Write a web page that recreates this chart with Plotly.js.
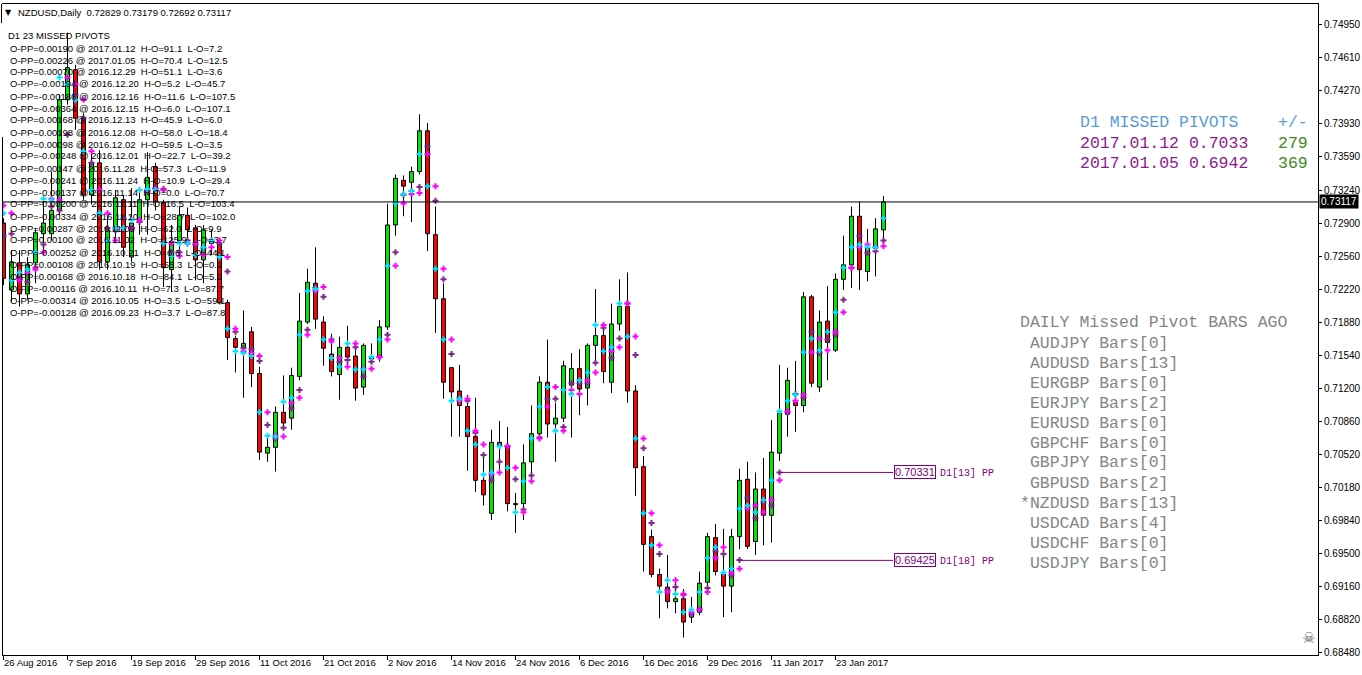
<!DOCTYPE html>
<html><head><meta charset="utf-8">
<script src="https://cdn.plot.ly/plotly-3.0.1.min.js"></script>
<style>html,body{margin:0;padding:0;background:#fff;}#chart{width:1362px;height:675px;}</style>
</head><body><div id="chart"></div>
<script>
// ---------------- DATA ----------------
const symbol = 'NZDUSD';
const timeframe = 'Daily';
const tickBars = [0,8,16,24,32,40,48,56,64,72,80,88,96,104];
const tickLabels = ['26 Aug 2016','7 Sep 2016','19 Sep 2016','29 Sep 2016','11 Oct 2016','21 Oct 2016','2 Nov 2016','14 Nov 2016','24 Nov 2016','6 Dec 2016','16 Dec 2016','29 Dec 2016','11 Jan 2017','23 Jan 2017'];
const priceTicks = [0.74950,0.74610,0.74270,0.73930,0.73590,0.73240,0.72900,0.72560,0.72220,0.71880,0.71540,0.71200,0.70860,0.70520,0.70180,0.69840,0.69500,0.69160,0.68820,0.68480];

const opens = [0.7290,0.7221,0.7249,0.7217,0.7249,0.7279,0.7279,0.7303,0.7417,0.7448,
0.7399,0.7319,0.7352,0.7250,0.7281,0.7314,0.7255,0.7291,0.7314,0.7348,
0.7311,0.7242,0.7272,0.7298,0.7285,0.7252,0.7271,0.7268,0.7208,0.7171,
0.7162,0.7178,0.7135,0.7053,0.7059,0.7095,0.7089,0.7132,0.7188,0.7228,
0.7188,0.7155,0.7134,0.7162,0.7153,0.7121,0.7150,0.7151,0.7183,0.7288,
0.7334,0.7332,0.7343,0.7385,0.7278,0.7212,0.7141,0.7117,0.7101,0.7070,
0.7025,0.6991,0.7064,0.7060,0.7001,0.7001,0.7044,0.7073,0.7126,0.7083,
0.7089,0.7123,0.7140,0.7120,0.7164,0.7174,0.7126,0.7186,0.7204,0.7117,
0.7039,0.6967,0.6928,0.6915,0.6900,0.6903,0.6884,0.6889,0.6920,0.6966,
0.6928,0.6916,0.6967,0.7026,0.6962,0.7016,0.6989,0.7053,0.7093,0.7105,
0.7102,0.7214,0.7121,0.7189,0.7159,0.7232,0.7247,0.7297,0.7240,0.7264,
0.72829];
const highs = [0.7295,0.7262,0.7262,0.7255,0.7285,0.7314,0.7343,0.7422,0.7486,0.7453,
0.7403,0.7365,0.7365,0.7301,0.7324,0.7319,0.7326,0.7325,0.7363,0.7352,
0.7314,0.7288,0.7307,0.7306,0.7288,0.7288,0.7283,0.7275,0.7211,0.7174,
0.7200,0.7183,0.7142,0.7070,0.7101,0.7133,0.7141,0.7218,0.7243,0.7265,
0.7194,0.7176,0.7173,0.7184,0.7162,0.7166,0.7166,0.7190,0.7310,0.7340,
0.7339,0.7348,0.7402,0.7393,0.7307,0.7228,0.7141,0.7144,0.7113,0.7110,
0.7051,0.7077,0.7086,0.7080,0.7012,0.7062,0.7102,0.7132,0.7170,0.7105,
0.7148,0.7156,0.7160,0.7166,0.7222,0.7188,0.7207,0.7232,0.7239,0.7123,
0.7050,0.6974,0.6934,0.6948,0.6925,0.6913,0.6905,0.6931,0.6971,0.6980,
0.6975,0.6975,0.7037,0.7044,0.7033,0.7048,0.7087,0.7144,0.7141,0.7148,
0.7219,0.7216,0.7200,0.7225,0.7238,0.7277,0.7307,0.7312,0.7284,0.7295,
0.73179];
const lows = [0.7226,0.7209,0.7204,0.7211,0.7228,0.7260,0.7272,0.7298,0.7412,0.7386,
0.7314,0.7309,0.7242,0.7242,0.7272,0.7255,0.7250,0.7278,0.7278,0.7303,
0.7224,0.7219,0.7255,0.7272,0.7231,0.7228,0.7257,0.7206,0.7149,0.7136,
0.7110,0.7121,0.7046,0.7044,0.7034,0.7077,0.7077,0.7128,0.7186,0.7181,
0.7143,0.7132,0.7108,0.7144,0.7107,0.7113,0.7145,0.7147,0.7180,0.7277,
0.7297,0.7291,0.7340,0.7261,0.7177,0.7109,0.7070,0.7070,0.7035,0.7013,
0.6999,0.6984,0.7036,0.6993,0.6971,0.6984,0.7032,0.7066,0.7069,0.7044,
0.7085,0.7069,0.7092,0.7102,0.7145,0.7125,0.7115,0.7179,0.7105,0.7009,
0.6931,0.6925,0.6883,0.6893,0.6888,0.6863,0.6878,0.6886,0.6917,0.6927,
0.6884,0.6889,0.6954,0.6954,0.6948,0.6958,0.6961,0.7045,0.7070,0.7075,
0.7095,0.7121,0.7116,0.7128,0.7157,0.7221,0.7223,0.7221,0.7230,0.7235,
0.72692];
const closes = [0.7233,0.7250,0.7217,0.7247,0.7280,0.7290,0.7303,0.7417,0.7450,0.7398,
0.7319,0.7352,0.7250,0.7283,0.7316,0.7265,0.7290,0.7314,0.7337,0.7312,
0.7244,0.7271,0.7298,0.7283,0.7252,0.7283,0.7269,0.7208,0.7172,0.7162,
0.7166,0.7135,0.7054,0.7059,0.7095,0.7084,0.7133,0.7189,0.7229,0.7191,
0.7161,0.7137,0.7162,0.7152,0.7120,0.7164,0.7152,0.7183,0.7288,0.7336,
0.7328,0.7343,0.7385,0.7279,0.7212,0.7126,0.7116,0.7102,0.7070,0.7025,
0.7010,0.7064,0.7060,0.7001,0.7000,0.7043,0.7073,0.7126,0.7083,0.7089,
0.7143,0.7140,0.7119,0.7164,0.7174,0.7137,0.7186,0.7204,0.7117,0.7038,
0.6959,0.6928,0.6916,0.6900,0.6903,0.6879,0.6889,0.6919,0.6967,0.6931,
0.6916,0.6967,0.7025,0.6957,0.7016,0.6989,0.7054,0.7094,0.7128,0.7102,
0.7214,0.7125,0.7188,0.7167,0.7232,0.7247,0.7297,0.7242,0.7264,0.7284,
0.73117];

// pivot dots drawn by the indicator
const pivotCyan = [0.7300,0.7231,0.7239,0.7242,0.7260,0.7315,0.7314,0.7440,0.7433,0.7417,
0.7364,0.7324,0.7300,0.7272,0.7285,0.7285,0.7293,0.7324,0.7325,0.7324,
0.7269,0.7256,0.7269,0.7269,0.7257,0.7265,0.7272,0.7255,0.7181,0.7158,
0.7156,0.7153,0.7095,0.7071,0.7070,0.7106,0.7110,0.7175,0.7220,0.7222,
0.7170,0.7151,0.7142,0.7166,0.7139,0.7139,0.7152,0.7170,0.7246,0.7310,
0.7320,0.7323,0.7361,0.7328,0.7243,0.7170,0.7107,0.7109,0.7076,0.7062,
0.7031,0.7033,0.7060,0.7038,0.6992,0.7024,0.7068,0.7101,0.7121,0.7076,
0.7118,0.7114,0.7128,0.7136,0.7185,0.7158,0.7162,0.7207,0.7173,0.7068,
0.6991,0.6958,0.6910,0.6922,0.6908,0.6889,0.6892,0.6910,0.6945,0.6956,
0.6930,0.6934,0.6996,0.6999,0.6992,0.7005,0.7025,0.7096,0.7107,0.7113,
0.7157,0.7171,0.7159,0.7178,0.7198,0.7244,0.7265,0.7268,0.7265,0.7265,
0.7295];
const pivotMagenta = [0.7308,0.7300,0.7231,0.7239,0.7242,0.7260,0.7315,0.7314,0.7440,0.7433,
0.7417,0.7364,0.7324,0.7300,0.7272,0.7285,0.7285,0.7293,0.7324,0.7325,
0.7324,0.7269,0.7256,0.7269,0.7269,0.7257,0.7265,0.7272,0.7255,0.7181,
0.7158,0.7156,0.7153,0.7095,0.7071,0.7070,0.7105,0.7110,0.7175,0.7220,
0.7224,0.7168,0.7151,0.7142,0.7166,0.7140,0.7140,0.7152,0.7170,0.7246,
0.7310,0.7320,0.7321,0.7361,0.7328,0.7243,0.7170,0.7107,0.7109,0.7076,
0.7062,0.7031,0.7033,0.7060,0.7038,0.6992,0.7024,0.7068,0.7101,0.7121,
0.7076,0.7118,0.7114,0.7128,0.7136,0.7185,0.7158,0.7162,0.7207,0.7173,
0.7068,0.6991,0.6958,0.6910,0.6922,0.6908,0.6889,0.6892,0.6910,0.6945,
0.6956,0.6930,0.6934,0.6996,0.6999,0.6992,0.7005,0.7025,0.7096,0.7107,
0.7113,0.7157,0.7171,0.7159,0.7178,0.7198,0.7244,0.7265,0.7268,0.7265,
0.7266];
const pivotPurple = [0.7277,0.7279,0.7233,0.7229,0.7244,0.7268,0.7307,0.7303,0.7381,0.7422,
0.7398,0.7352,0.7300,0.7285,0.7283,0.7295,0.7285,0.7291,0.7322,0.7326,
0.7325,0.7260,0.7260,0.7272,0.7268,0.7264,0.7272,0.7269,0.7240,0.7178,
0.7161,0.7160,0.7148,0.7082,0.7068,0.7079,0.7099,0.7118,0.7180,0.7223,
0.7214,0.7170,0.7147,0.7149,0.7162,0.7132,0.7147,0.7152,0.7175,0.7260,
0.7319,0.7323,0.7327,0.7369,0.7313,0.7232,0.7155,0.7110,0.7107,0.7074,
0.7051,0.7025,0.7044,0.7060,0.7026,0.6995,0.7030,0.7069,0.7109,0.7109,
0.7080,0.7125,0.7125,0.7125,0.7146,0.7182,0.7151,0.7171,0.7207,0.7154,
0.7058,0.6981,0.6949,0.6912,0.6915,0.6907,0.6887,0.6892,0.6914,0.6952,
0.6949,0.6927,0.6943,0.7007,0.6986,0.7002,0.6999,0.7033,0.7095,0.7114,
0.7110,0.7178,0.7156,0.7170,0.7175,0.7211,0.7244,0.7277,0.7259,0.7261,
0.7272];

// missed pivots list (top-left)
const missedOPP = [0.00190,0.00226,0.00070,-0.00194,-0.00186,-0.00364,0.00168,0.00198,0.00098,-0.00248,0.00147,-0.00241,-0.00137,-0.00200,-0.00334,0.00287,0.00100,-0.00252,0.00108,0.00168,-0.00116,-0.00314,-0.00128];
const missedDates = ['2017.01.12','2017.01.05','2016.12.29','2016.12.20','2016.12.16','2016.12.15','2016.12.13','2016.12.08','2016.12.02','2016.12.01','2016.11.28','2016.11.24','2016.11.14','2016.11.11','2016.11.10','2016.11.09','2016.11.02','2016.10.21','2016.10.19','2016.10.18','2016.10.11','2016.10.05','2016.09.23'];
const missedHO = [91.1,70.4,51.1,5.2,11.6,6.0,45.9,58.0,59.5,22.7,57.3,10.9,0.0,16.5,28.7,62.0,125.9,6.6,55.3,84.1,7.3,3.5,3.7];
const missedLO = [7.2,12.5,3.6,45.7,107.5,107.1,6.0,18.4,3.5,39.2,11.9,29.4,70.7,103.4,102.0,9.9,3.7,44.1,0.2,5.2,87.7,59.1,87.8];

// right panels
const recentDates = ['2017.01.12','2017.01.05'];
const recentLevels = ['0.7033','0.6942'];
const recentPips = [279,369];
const pivotLevels = [0.70331,0.69425];
const pivotBarsAgo = [13,18];
const basketPairs = ['AUDJPY','AUDUSD','EURGBP','EURJPY','EURUSD','GBPCHF','GBPJPY','GBPUSD','NZDUSD','USDCAD','USDCHF','USDJPY'];
const basketBars = [0,13,0,2,0,0,0,2,13,4,0,0];

// ---------------- DRAWING ----------------
const SANS = 'Liberation Sans, Arial, sans-serif';
const MONO = 'Liberation Mono, Courier New, monospace';
const W = 1362, H = 675, ML = 2, MR = 44, MT = 4, MB = 20;
const PW = W - ML - MR, PH = H - MT - MB;
const px = v => (v - ML) / PW;
const py = v => (H - MB - v) / PH;
const NB = '\u00a0';

const idx = opens.map((_, i) => i);
const last = idx.length - 1;
const upI = idx.filter(i => closes[i] >= opens[i]);
const dnI = idx.filter(i => closes[i] < opens[i]);

function bodyTrace(list, color) {
  return {type:'bar', x:list, base:list.map(i => Math.min(opens[i], closes[i])),
    y:list.map(i => Math.abs(closes[i] - opens[i])), width:0.5,
    marker:{color:color, line:{color:'#000', width:1}}, hoverinfo:'skip'};
}
const wx = [], wy = [];
idx.forEach(i => {
  const top = Math.max(opens[i], closes[i]), bot = Math.min(opens[i], closes[i]);
  wx.push(i, i, null, i, i, null);
  wy.push(highs[i], top, null, bot, lows[i], null);
});
function dots(vals, color) {
  return {type:'scatter', mode:'markers', x:idx, y:vals,
    marker:{symbol:'cross', size:5, color:color, line:{width:0}}, hoverinfo:'skip'};
}
const traces = [
  bodyTrace(upI, '#00e600'),
  bodyTrace(dnI, '#ff0000'),
  {type:'scatter', mode:'lines', x:wx, y:wy, line:{color:'#000', width:1}, hoverinfo:'skip', connectgaps:false},
  dots(pivotPurple, '#7d2a88'),
  dots(pivotMagenta, '#ff00ff'),
  dots(pivotCyan, '#00e0ff')
];

const ann = [];
function txt(text, x, y, o) {
  ann.push(Object.assign({text:text, xref:'paper', yref:'paper', x:px(x), y:py(y), xanchor:'left', yanchor:'middle',
    showarrow:false, borderpad:0, font:{family:SANS, size:9.5, color:'#000'}}, o || {}));
}
// header
txt('\u25BC', 4, 12, {font:{family:'DejaVu Sans', size:8, color:'#000'}});
txt(symbol + ',' + timeframe + NB + NB + [opens[last], highs[last], lows[last], closes[last]].map(v => v.toFixed(5)).join(' '), 17, 12);
txt('D1 ' + missedDates.length + ' MISSED PIVOTS', 7, 35);
missedDates.forEach((d, k) => {
  txt('O-PP=' + missedOPP[k].toFixed(5) + ' @ ' + d + NB + NB + 'H-O=' + missedHO[k].toFixed(1) + NB + NB + 'L-O=' + missedLO[k].toFixed(1), 9, 48 + 12 * k);
});
// x labels
tickBars.forEach((b, k) => {
  ann.push({text:tickLabels[k], xref:'x', yref:'paper', x:b, y:0, xanchor:'left', yanchor:'top', yshift:-1, xshift:-1,
    showarrow:false, borderpad:0, font:{family:SANS, size:9.5, color:'#000'}});
});
// current price tag
ann.push({text:closes[last].toFixed(5), xref:'paper', yref:'y', x:1, y:closes[last], xanchor:'left', yanchor:'middle', xshift:1,
  showarrow:false, bgcolor:'#000', borderpad:1, font:{family:SANS, size:10, color:'#fff'}});
// D1 missed pivots panel
const mono = (size, color) => ({font:{family:MONO, size:size, color:color}});
txt('D1 MISSED PIVOTS', 1079, 123, mono(16.5, '#5b9bd5'));
txt('+/-', 1309, 123, Object.assign({xanchor:'right'}, mono(16.5, '#5b9bd5')));
recentDates.forEach((d, k) => {
  txt(d + ' ' + recentLevels[k], 1079, 143 + 20 * k, mono(16.5, '#8e1b8e'));
  txt(String(recentPips[k]), 1309, 143 + 20 * k, Object.assign({xanchor:'right'}, mono(16.5, '#3f8a1c')));
});
// bars-ago panel
txt('DAILY Missed Pivot BARS AGO', 1019, 322, mono(16.5, '#858585'));
basketPairs.forEach((p, k) => {
  txt((p === symbol ? '*' : NB) + p + ' Bars[' + basketBars[k] + ']', 1019, 343 + 20 * k, mono(16.5, '#858585'));
});
// pivot level labels
const shapes = [];
pivotLevels.forEach((lv, k) => {
  const startBar = last - pivotBarsAgo[k];
  shapes.push({type:'line', xref:'x', yref:'y', x0:startBar, x1:111.2, y0:lv, y1:lv, line:{color:'#800080', width:1}});
  ann.push({text:lv.toFixed(5), xref:'x', yref:'y', x:111.3, y:lv, xanchor:'left', yanchor:'middle', showarrow:false,
    bordercolor:'#800080', borderwidth:1, borderpad:0, font:{family:SANS, size:11, color:'#800080'}});
  ann.push({text:'D1[' + pivotBarsAgo[k] + '] PP', xref:'x', yref:'y', x:116.8, y:lv, xanchor:'left', yanchor:'middle', yshift:-1,
    showarrow:false, font:{family:MONO, size:10, color:'#800080'}});
});
// skull icon
txt('\u2620', 1301, 638, {font:{family:'DejaVu Sans', size:15, color:'#666666'}});

// bid line and frame bits
shapes.push({type:'line', xref:'paper', yref:'y', x0:0, x1:1, y0:closes[last], y1:closes[last], line:{color:'#000', width:1}});
shapes.push({type:'line', xref:'paper', yref:'paper', x0:px(1.5), x1:px(1.5), y0:1, y1:py(23), line:{color:'#000', width:1}});
shapes.push({type:'line', xref:'paper', yref:'paper', x0:px(2.5), x1:px(2.5), y0:0, y1:py(137), line:{color:'#000', width:1}});

const layout = {
  width:W, height:H, margin:{l:ML, r:MR, t:MT, b:MB, pad:0},
  paper_bgcolor:'#fff', plot_bgcolor:'#fff', showlegend:false,
  barmode:'overlay', hovermode:false,
  xaxis:{range:[-0.1875, 164.3125], showgrid:false, zeroline:false, showline:true, mirror:true,
    linecolor:'#000', linewidth:1, ticks:'outside', ticklen:4, tickcolor:'#000', tickwidth:1,
    tickvals:tickBars, showticklabels:false, fixedrange:true},
  yaxis:{range:[0.684505, 0.75156], side:'right', showgrid:false, zeroline:false, showline:true,
    linecolor:'#000', linewidth:1, ticks:'outside', ticklen:3, tickcolor:'#000', tickwidth:1,
    tickvals:priceTicks, ticktext:priceTicks.map(v => v.toFixed(5)),
    tickfont:{family:SANS, size:10, color:'#000'}, fixedrange:true},
  annotations:ann, shapes:shapes
};
Plotly.newPlot('chart', traces, layout, {staticPlot:true, displayModeBar:false});
</script>
</body></html>
